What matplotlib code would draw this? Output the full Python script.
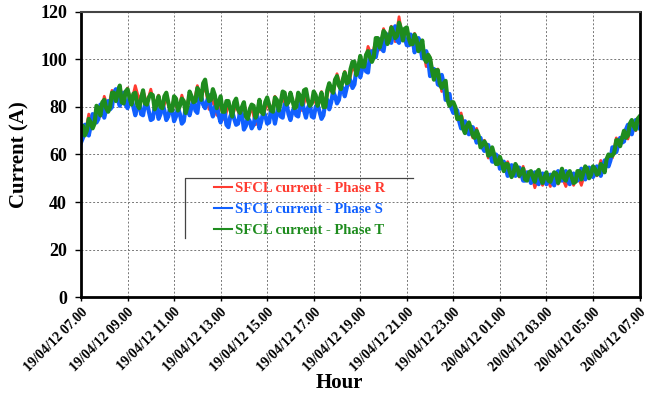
import numpy as np
import matplotlib.pyplot as plt
from matplotlib.lines import Line2D

# tick labels, one every 2 hours starting 19/04/12 07.00
tick_labels = ['19/04/12 07.00', '19/04/12 09.00', '19/04/12 11.00', '19/04/12 13.00',
               '19/04/12 15.00', '19/04/12 17.00', '19/04/12 19.00', '19/04/12 21.00',
               '19/04/12 23.00', '20/04/12 01.00', '20/04/12 03.00', '20/04/12 05.00',
               '20/04/12 07.00']

# phase R, one sample every 10 minutes
phase_r = [71.5, 68, 77, 73.5, 79.5, 76, 84.5, 79.5, 87, 82.5, 88.5, 83,
           88, 82, 89, 83, 87, 81.5, 87.5, 80.5, 85, 78, 84, 78.5,
           83.5, 78, 85, 79.5, 85, 81, 89, 84, 89, 79, 83, 76.5,
           80.5, 74.5, 81, 76, 81, 75.5, 82, 74.5, 80, 72.5, 80, 76,
           82, 77, 84.5, 79.5, 84, 79, 86, 79.5, 85.5, 78.5, 84.5, 79.5,
           84.5, 79, 86.5, 81, 88.5, 85, 94, 88.5, 95, 89, 97, 94,
           101, 97, 105.5, 101.5, 108, 104, 113, 107.5, 114, 107.5, 118, 108,
           112.5, 106, 111, 104.5, 105.5, 97, 101, 92.5, 96, 86.5, 89, 80.5,
           81.5, 74.5, 77.5, 70.5, 72.5, 67, 71, 64, 66, 58.5, 61.5, 56,
           58, 53, 57, 52, 55, 50.5, 55, 49.5, 52.5, 46, 50.5, 47,
           50.5, 46.5, 52, 47.5, 50.5, 46.5, 51.5, 47, 51.5, 47, 52.5, 50,
           54.5, 51, 57.5, 54, 59, 58.5, 67, 64, 69.5, 66.5, 72.5, 70,
           75.5]

# phases S and T, one sample every 5 minutes
phase_s = [65, 67, 72.5, 72.5, 68, 72, 77, 76, 73.5, 75, 81, 80,
           75.5, 79, 82.5, 79, 80, 86, 87.5, 83, 80.5, 84, 86, 81,
           79.5, 84, 84, 80, 76.5, 80, 82, 77, 76.5, 81, 82, 78,
           74.5, 75, 80, 80, 75, 77, 81.5, 78.5, 74.5, 76, 80, 79,
           74, 76, 79.5, 77, 73, 74, 80, 80, 76.5, 80, 83.5, 78.5,
           77.5, 83.5, 84.5, 81, 79.5, 82.5, 85, 79, 76, 80, 80.5, 76.5,
           73.5, 77, 78.5, 72.5, 71.5, 76, 78, 75, 72.5, 73, 78, 77,
           70.5, 72, 75.5, 74, 71, 72.5, 77, 76, 71, 74, 78, 76.5,
           73, 73.5, 79, 77.5, 73, 77, 80.5, 76, 75.5, 81, 81.5, 77,
           74.5, 78, 80, 76.5, 76, 81, 82.5, 78.5, 75.5, 79.5, 81.5, 76,
           75.5, 80, 81, 78, 75, 76.5, 82, 83, 79, 82, 86.5, 84.5,
           81.5, 83, 88, 88, 84.5, 88, 92.5, 91, 88, 89.5, 96, 96,
           92.5, 96, 99.5, 95, 94.5, 101.5, 103.5, 101, 101, 105, 108.5, 104.5,
           103.5, 109, 110.5, 108, 107, 111.5, 114, 108, 107, 111, 112.5, 109,
           106, 106, 110.5, 109, 103, 105, 109, 105, 100.5, 100.5, 103.5, 100,
           93, 94, 96, 94, 89.5, 89, 93.5, 90, 83, 84, 85.5, 79.5,
           77.5, 79.5, 78.5, 74, 71, 73, 74, 70, 68.5, 71.5, 71.5, 68,
           65, 66.5, 67, 63, 61.5, 64, 64, 60.5, 57, 57, 60, 58.5,
           54, 55, 57, 54.5, 51, 52, 55.5, 55, 51, 52, 54.5, 52,
           49, 49, 52.5, 51, 48, 50, 52.5, 48.5, 47.5, 51, 52, 49,
           47.5, 50, 51.5, 48, 47, 51.5, 53, 50.5, 49, 51.5, 53, 49,
           47.5, 51, 52, 50.5, 49, 50, 54, 53, 49.5, 51.5, 54.5, 53,
           50.5, 52, 55, 54.5, 51, 54, 57.5, 57, 55, 57.5, 63, 63,
           61, 64, 67, 65, 65.5, 70.5, 72.5, 70, 68.5, 72, 74.5, 72,
           71]
phase_t = [72, 72, 68, 70, 75, 73.5, 71, 73, 80.5, 79.5, 76.5, 82,
           83, 79.5, 78, 80, 86, 86, 82.5, 86, 89, 82, 81.5, 86.5,
           87.5, 84, 81, 85.5, 86, 81, 79.5, 83.5, 87, 81.5, 81, 84,
           85.5, 85, 79, 81, 84.5, 80, 79.5, 84.5, 86, 82, 78.5, 78.5,
           84.5, 83.5, 78.5, 80.5, 83.5, 82.5, 77.5, 80.5, 86.5, 84.5, 82, 82.5,
           88, 86.5, 83, 90, 91.5, 86, 82.5, 83, 87.5, 85, 79.5, 82,
           84.5, 78, 78, 82.5, 82.5, 79, 76, 82, 83.5, 79, 77.5, 80,
           82, 76, 75, 79, 81, 80.5, 75.5, 78, 83, 78, 77, 82,
           84, 81, 78.5, 78, 84, 83, 78.5, 82, 86.5, 86, 81, 82,
           86, 83, 79.5, 80, 86, 84.5, 81, 87, 87.5, 83, 80.5, 81.5,
           86.5, 85, 80.5, 83, 86, 80, 80, 87, 90, 87.5, 86, 91.5,
           93, 89, 87.5, 91.5, 94.5, 90, 90.5, 96, 99, 99, 93.5, 96.5,
           101.5, 97, 97, 102, 103.5, 101, 99, 101, 109, 109, 105, 108,
           112, 111, 106.5, 108.5, 113.5, 111.5, 109, 110, 115.5, 113, 108, 113,
           113.5, 109, 106.5, 106.5, 110.5, 108.5, 103.5, 106, 108, 100.5, 99, 102,
           100.5, 95.5, 91.5, 95.5, 95.5, 90, 88, 90, 91, 83, 80.5, 82,
           82, 80, 75, 75, 76, 71, 69, 72, 73.5, 71, 68, 67,
           70, 68, 63, 64, 65.5, 64, 59.5, 60, 63, 60, 56, 56,
           59, 56.5, 53, 56, 56, 53, 50.5, 52, 56, 54.5, 51, 52.5,
           54, 49.5, 49, 52.5, 53, 50.5, 48.5, 52.5, 53.5, 50, 48, 50.5,
           52.5, 49, 48.5, 51, 52.5, 52, 48, 50.5, 54, 50, 49, 52,
           53, 50.5, 48, 48.5, 53, 53, 49.5, 52, 55, 54, 50, 51.5,
           55, 54, 51.5, 52, 56, 55, 52.5, 58, 60, 59.5, 59.5, 61,
           66, 66, 63.5, 67, 70, 67, 68, 73, 74.5, 72, 70.5, 75,
           76]

hours_r = np.linspace(0, 24, len(phase_r))
hours_st = np.linspace(0, 24, len(phase_t))

plt.rcParams['font.family'] = ['Liberation Serif', 'DejaVu Serif']
plt.rcParams['font.weight'] = 'bold'

fig = plt.figure(figsize=(6.51, 3.99), dpi=100)
ax = fig.add_axes([0.1244, 0.2556, 0.858, 0.7144])

ax.plot(hours_r, phase_r, color='#ff3b30', lw=2.0, label='SFCL current - Phase R')
ax.plot(hours_st, phase_s, color='#1060ff', lw=3.0, label='SFCL current - Phase S')
ax.plot(hours_st, phase_t, color='#1e8c1e', lw=3.0, label='SFCL current - Phase T')

ax.set_xlim(0, 24)
ax.set_ylim(0, 120)
ax.set_xticks(np.arange(0, 25, 2))
ax.set_xticklabels(tick_labels, rotation=45, ha='right', rotation_mode='anchor',
                   fontsize=10, fontweight='bold')
ax.set_yticks(np.arange(0, 121, 20))
ax.tick_params(axis='y', labelsize=13, length=4, width=1, pad=6)
ax.tick_params(axis='x', length=3, width=1, pad=3)

ax.grid(True, color='#777777', linestyle=(0, (2, 2)), linewidth=0.7)
ax.set_axisbelow(True)

for side in ['left', 'bottom', 'right']:
    ax.spines[side].set_linewidth(2)
    ax.spines[side].set_color('black')
ax.spines['top'].set_linewidth(1.5)
ax.spines['top'].set_color('#444444')

ax.set_ylabel('Current (A)', fontsize=15, fontweight='bold', labelpad=8)
ax.set_xlabel('Hour', fontsize=15, fontweight='bold')
ax.xaxis.set_label_coords(0.462, -0.303)
ax.xaxis.label.set_va('center')

leg = ax.legend(loc='upper left', bbox_to_anchor=(0.228, 0.425), frameon=False,
                handlelength=1.2, handletextpad=0.2, labelspacing=0.55,
                borderaxespad=0, labelcolor='linecolor',
                prop={'size': 10.5, 'weight': 'bold', 'family': 'Liberation Serif'})
for h in leg.get_lines():
    h.set_linewidth(1.5)

# partial box behind the legend (top and left edges only)
ax.add_line(Line2D([0.186, 0.186, 0.595], [0.207, 0.4175, 0.4175],
                   transform=ax.transAxes, color='#444444', lw=0.9))

fig.savefig('out.png', dpi=100)
